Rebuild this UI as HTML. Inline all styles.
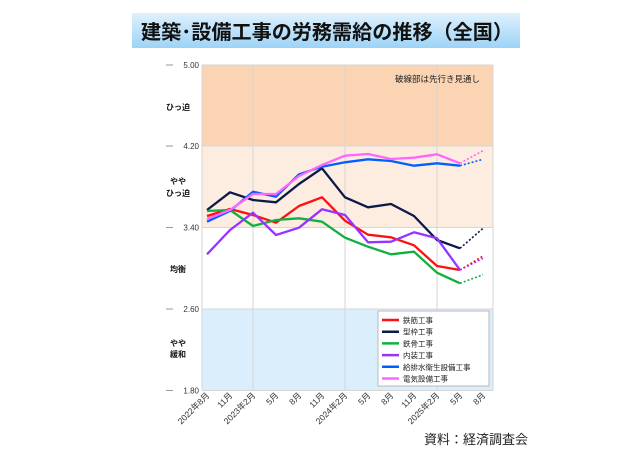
<!DOCTYPE html>
<html><head><meta charset="utf-8"><style>
body{margin:0;width:640px;height:450px;background:#fff;overflow:hidden;font-family:"Liberation Sans","Noto Sans CJK JP",sans-serif;}
</style></head><body>
<svg width="640" height="450" viewBox="0 0 640 450" xmlns="http://www.w3.org/2000/svg" font-family="Liberation Sans, Noto Sans CJK JP, sans-serif">
<defs><linearGradient id="tg" x1="0" y1="0" x2="0" y2="1"><stop offset="0" stop-color="#dff1fd"/><stop offset="1" stop-color="#9dd3f7"/></linearGradient></defs>
<rect x="132" y="13" width="388" height="35" fill="url(#tg)"/>
<text x="141" y="39" font-size="20" font-weight="bold" fill="#111" textLength="372" lengthAdjust="spacingAndGlyphs">建築･設備工事の労務需給の推移（全国）</text>
<rect x="202" y="65" width="291" height="81" fill="#fad4b3"/>
<rect x="202" y="146" width="291" height="81.5" fill="#fdece0"/>
<rect x="202" y="309" width="291" height="81.5" fill="#dbeefc"/>
<g stroke="#d6d6d6" stroke-width="1">
<line x1="253" y1="65" x2="253" y2="390"/><line x1="345" y1="65" x2="345" y2="390"/><line x1="437" y1="65" x2="437" y2="390"/>
<line x1="202" y1="65" x2="493" y2="65"/><line x1="202" y1="146" x2="493" y2="146"/><line x1="202" y1="227.5" x2="493" y2="227.5"/><line x1="202" y1="309" x2="493" y2="309"/><line x1="202" y1="390.5" x2="493" y2="390.5"/>
<line x1="202" y1="65" x2="202" y2="390.5"/><line x1="493" y1="65" x2="493" y2="390.5"/>
</g>
<g stroke="#999" stroke-width="1"><line x1="166" y1="65" x2="173" y2="65"/><line x1="166" y1="146" x2="173" y2="146"/><line x1="166" y1="227.5" x2="173" y2="227.5"/><line x1="166" y1="309" x2="173" y2="309"/><line x1="166" y1="390.5" x2="173" y2="390.5"/></g>
<g font-size="8" fill="#333" text-anchor="end"><text x="199" y="68">5.00</text><text x="199" y="149">4.20</text><text x="199" y="230.5">3.40</text><text x="199" y="312">2.60</text><text x="199" y="393.5">1.80</text></g>
<g font-size="8" fill="#111" font-weight="bold" text-anchor="middle"><text x="178" y="110">ひっ迫</text><text x="178" y="184">やや</text><text x="178" y="196">ひっ迫</text><text x="178" y="272">均衡</text><text x="178" y="346">やや</text><text x="178" y="357">緩和</text></g>
<text x="480" y="82" font-size="8.5" fill="#222" text-anchor="end">破線部は先行き見通し</text>
<g font-size="8.5" fill="#333" text-anchor="end" id="xl"></g>
<g id="ser" fill="none" stroke-width="2.3" stroke-linejoin="round"></g>
<rect x="378" y="311" width="111" height="75" fill="#fff" stroke="#bbb"/>
<g id="leg" font-size="7.5" fill="#222"></g>
<text x="528" y="444" font-size="13" fill="#222" text-anchor="end">資料：経済調査会</text>
</svg>
<script>
var labels=["2022年8月","11月","2023年2月","5月","8月","11月","2024年2月","5月","8月","11月","2025年2月","5月","8月"];
var xl=document.getElementById("xl"),ns="http://www.w3.org/2000/svg";
labels.forEach(function(l,i){var x=207+23*i;var t=document.createElementNS(ns,"text");t.setAttribute("transform","translate("+(x+3)+",396) rotate(-45)");t.textContent=l;xl.appendChild(t);});
var S=[["鉄筋工事","#ff1010",[228,207,225,248,198,172,242,284,292,316,378,390],348],
["型枠工事","#0a1a4a",[210,157,180,187,132,85,172,202,192,228,300,325],265],
["鉄骨工事","#10b040",[213,210,258,240,235,245,293,320,343,335,398,430],404],
["内装工事","#9933ff",[343,270,218,285,263,208,225,307,305,277,295,390],355],
["給排水衛生設備工事","#0060ff",[245,213,155,170,103,80,67,58,63,77,70,77],58],
["電気設備工事","#ff66ff",[237,210,162,162,108,75,47,42,57,53,43,70],32]];
var g=document.getElementById("ser"),lg=document.getElementById("leg");
function y(v){return 140+v/3;}
S.forEach(function(s,k){var p=s[2].map(function(v,i){return (207+23*i)+","+y(v).toFixed(1);}).join(" ");
var pl=document.createElementNS(ns,"polyline");pl.setAttribute("points",p);pl.setAttribute("stroke",s[1]);g.appendChild(pl);
var d=document.createElementNS(ns,"line");d.setAttribute("x1",460);d.setAttribute("y1",y(s[2][11]));d.setAttribute("x2",483);d.setAttribute("y2",y(s[3]));d.setAttribute("stroke",s[1]);d.setAttribute("stroke-width","1.6");d.setAttribute("stroke-dasharray","2 2");g.appendChild(d);
var ly=320+11.7*k;var l=document.createElementNS(ns,"line");l.setAttribute("x1",382);l.setAttribute("x2",399);l.setAttribute("y1",ly);l.setAttribute("y2",ly);l.setAttribute("stroke",s[1]);l.setAttribute("stroke-width","2.5");lg.appendChild(l);
var t=document.createElementNS(ns,"text");t.setAttribute("x",403);t.setAttribute("y",ly+3);t.textContent=s[0];lg.appendChild(t);});
</script>
</body></html>
